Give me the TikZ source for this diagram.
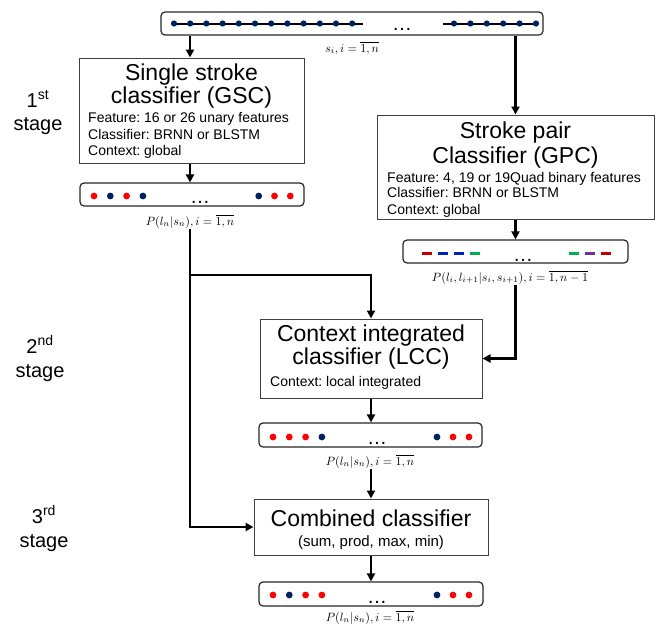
\documentclass[tikz,border=0pt]{standalone}
\usepackage{graphicx}
\usepackage{fontspec}
\setmainfont{Liberation Sans}
\frenchspacing
\usetikzlibrary{arrows.meta,calc}
\definecolor{navy}{HTML}{002060}
\definecolor{dotred}{HTML}{FF0000}
\definecolor{dred}{HTML}{C00000}
\definecolor{dblue}{HTML}{0020C0}
\definecolor{dgreen}{HTML}{00B050}
\definecolor{dpurple}{HTML}{7030A0}
\newcommand{\mlab}[1]{\scalebox{1.2}{$#1$}}
\begin{document}
\begin{tikzpicture}[x=1pt,y=-1pt,
  box/.style={draw=black!75, line width=1pt, inner sep=0pt, fill=white},
  bar/.style={draw=black!85, line width=1.2pt, rounded corners=4pt, inner sep=0pt},
  arr/.style={line width=2.4pt, -{Triangle[length=8pt,width=8pt]}},
  ttl/.style={font=\fontsize{23}{24}\selectfont, anchor=base, inner sep=0pt},
  feat/.style={font=\fontsize{14}{16}\selectfont, anchor=base west, inner sep=0pt},
  stg/.style={font=\fontsize{20}{22}\selectfont, anchor=base, inner sep=0pt},
  lab/.style={font=\fontsize{10}{12}\selectfont, anchor=base, inner sep=1pt},
  ell/.style={font=\fontsize{20}{20}\selectfont, anchor=base, inner sep=0pt},
  sdot/.style={fill=navy, draw=none},
  rdot/.style={fill=dotred, draw=none},
  ndot/.style={fill=navy, draw=none},
  dsh/.style={line width=3pt}
]
\useasboundingbox (0,0) rectangle (659,627);

% ---------- top input bar ----------
\node[bar, minimum width=382, minimum height=23] (top) at (352,23.5) {};
\draw[line width=2pt] (174,23.5) -- (363,23.5);
\draw[line width=2pt] (443,23.5) -- (536,23.5);
\foreach \i in {0,...,11} \fill[sdot] ({174+\i*16.2},23.5) circle (3.1);
\foreach \i in {0,...,5} \fill[sdot] ({454+\i*16.4},23.5) circle (3.1);
\node[ell] (topell) at (402,30.5) {…};
\node[lab] (toplab) at (352,52) {\mlab{s_i, i=\overline{1,n}}};

% ---------- stage labels ----------
\node[stg] (s1a) at (38,107) {1\textsuperscript{st}};
\node[stg] (s1b) at (38,130) {stage};
\node[stg] (s2a) at (40,353) {2\textsuperscript{nd}};
\node[stg] (s2b) at (40,377) {stage};
\node[stg] (s3a) at (44,523) {3\textsuperscript{rd}};
\node[stg] (s3b) at (44,547) {stage};

% ---------- GSC ----------
\node[box, minimum width=225, minimum height=105] (gsc) at (191.5,110.5) {};
\node[ttl] (gsct1) at (191.5,80.5) {Single stroke};
\node[ttl] (gsct2) at (191.5,103.5) {classifier (GSC)};
\node[feat] (gscf1) at (88,122.5) {Feature: 16 or 26 unary features};
\node[feat] (gscf2) at (88,139) {Classifier: BRNN or BLSTM};
\node[feat] (gscf3) at (88,155.5) {Context: global};

\node[bar, minimum width=224, minimum height=23] (bar1) at (192,194.5) {};
\foreach \x/\c in {94/rdot,110.3/ndot,126.6/rdot,142.9/ndot,258.7/ndot,274.5/rdot,290.3/rdot}
  \fill[\c] (\x,196) circle (3.4);
\node[ell] (ell1) at (200,203.5) {…};
\node[lab] (lab1) at (190,225) {\mlab{P(l_n|s_n), i=\overline{1,n}}};

% ---------- GPC ----------
\node[box, minimum width=277, minimum height=104] (gpc) at (515.5,167) {};
\node[ttl] (gpct1) at (515.5,138) {Stroke pair};
\node[ttl] (gpct2) at (515.5,163) {Classifier (GPC)};
\node[feat] (gpcf1) at (387,182) {Feature: 4, 19 or 19Quad binary features};
\node[feat] (gpcf2) at (387,197.5) {Classifier: BRNN or BLSTM};
\node[feat] (gpcf3) at (387,214) {Context: global};

\node[bar, minimum width=225, minimum height=23] (bar2) at (515.5,251.5) {};
\foreach \x/\c in {421.5/dred,437.5/dblue,453.5/dblue,469.5/dgreen,569/dgreen,585/dpurple,601/dred}
  \draw[dsh,\c] (\x,253) -- ++(10,0);
\node[ell] (ell2) at (523,261) {…};
\node[lab] (lab2) at (510,281) {\mlab{P(l_i,l_{i+1}|s_i,s_{i+1}), i=\overline{1,n-1}}};

% ---------- LCC ----------
\node[box, minimum width=222, minimum height=79] (lcc) at (371,358.5) {};
\node[ttl] (lcct1) at (371,341) {Context integrated};
\node[ttl] (lcct2) at (371,364) {classifier (LCC)};
\node[feat] (lccf1) at (270,386.5) {Context: local integrated};

\node[bar, minimum width=223, minimum height=24] (bar3) at (370.5,435) {};
\foreach \x/\c in {273/rdot,289.3/rdot,305.6/rdot,321.9/ndot,437/ndot,453/rdot,469/rdot}
  \fill[\c] (\x,437) circle (3.4);
\node[ell] (ell3) at (377,444) {…};
\node[lab] (lab3) at (370,465) {\mlab{P(l_n|s_n), i=\overline{1,n}}};

% ---------- Combined ----------
\node[box, minimum width=234, minimum height=56] (comb) at (371,527) {};
\node[ttl] (combt1) at (371,526) {Combined classifier};
\node[feat, anchor=base, font=\fontsize{15}{17}\selectfont] (combf1) at (371,546) {(sum, prod, max, min)};

\node[bar, minimum width=224, minimum height=24] (bar4) at (371,594) {};
\foreach \x/\c in {273/rdot,289.3/ndot,305.6/rdot,321.9/rdot,437/ndot,453/rdot,469/rdot}
  \fill[\c] (\x,595) circle (3.4);
\node[ell] (ell4) at (377,603) {…};
\node[lab] (lab4) at (370,621) {\mlab{P(l_n|s_n), i=\overline{1,n}}};

% ---------- connectors ----------
\draw[arr] (top.south -| 190,0) -- (190,0 |- gsc.north);
\draw[arr] (top.south -| gpc.north) -- (gpc.north);
\draw[arr] (190,0 |- gsc.south) -- (190,0 |- bar1.north);
\draw[arr] (gpc.south) -- (gpc.south |- bar2.north);
\draw[arr] (190,0 |- lab1.south) |- (comb.west);
\coordinate (br) at (190,275);
\draw[arr] (br) -| (lcc.north);
\draw[arr] (gpc.south |- lab2.south) |- (lcc.east);
\draw[arr] (lcc.south) -- (lcc.south |- bar3.north);
\draw[arr] (comb.north |- lab3.south) -- (comb.north);
\draw[arr] (comb.south) -- (comb.south |- bar4.north);
\end{tikzpicture}
\end{document}
